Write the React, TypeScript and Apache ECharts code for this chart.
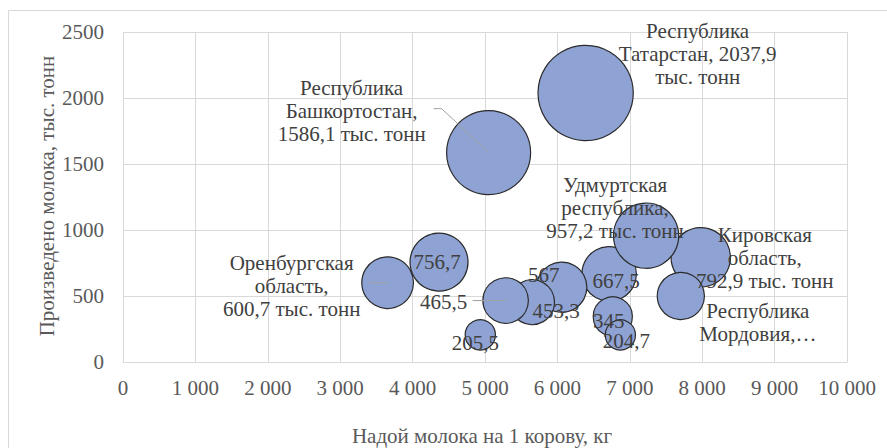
import React, { useEffect, useRef } from "react";
import * as echarts from "echarts";

// Надой молока на 1 корову, кг (x)
const milkYield = [6390, 5050, 7980, 3655, 4365, 6715, 6060, 5650, 5285, 6765, 6870, 4935, 7705, 7225];
// Произведено молока, тыс. тонн (y, also bubble size)
const production = [2037.9, 1586.1, 792.9, 600.7, 756.7, 667.5, 567, 453.3, 465.5, 345, 204.7, 205.5, 500, 957.2];
const labelTexts = [
  "Республика\nТатарстан, 2037,9\nтыс. тонн",
  "Республика\nБашкортостан,\n1586,1 тыс. тонн",
  "Кировская\nобласть,\n792,9 тыс. тонн",
  "Оренбургская\nобласть,\n600,7 тыс. тонн",
  "756,7",
  "667,5",
  "567",
  "453,3",
  "465,5",
  "345",
  "204,7",
  "205,5",
  "Республика\nМордовия,…",
  "Удмуртская\nреспублика,\n957,2 тыс. тонн",
];
const xTicks = { min: 0, max: 10000, interval: 1000 };
const yTicks = { min: 0, max: 2500, interval: 500 };

// label placement (pixel offsets from bubble centre)
const labelOffsets: number[][] = [
  [112, -39], [-137, -42], [64, 1], [-96, 3], [-2, 0], [7, 7], [-18, -12],
  [24, 9], [-62, 1], [-4, 5], [6, 6], [-5, 8], [77, 26], [-31, -28],
];
// leader lines: bubble index and pixel points relative to bubble centre
const leaderIdx = [1, 3, 8];
const leaderPts: number[][][] = [
  [[0, 0], [-47, -44], [-55, -44]],
  [[0, 0], [-18, 0]],
  [[0, 0], [-33, 0]],
];

const FONT = "Liberation Serif";
const FS = 21;

export default function App() {
  const ref = useRef<HTMLDivElement>(null);
  useEffect(() => {
    if (!ref.current) return;
    const chart = echarts.init(ref.current, null, { renderer: "svg" });
    const fmt = (v: number) => String(v).replace(/\B(?=(\d{3})+(?!\d))/g, " ");
    const data = milkYield.map((x, i) => ({
      value: [x, production[i], production[i]],
      label: { formatter: labelTexts[i], offset: labelOffsets[i] },
    }));
    chart.setOption({
      animation: false,
      textStyle: { fontFamily: FONT },
      grid: { left: 123, right: 40, top: 32, bottom: 86, containLabel: false },
      xAxis: {
        type: "value",
        ...xTicks,
        axisLine: { show: true, lineStyle: { color: "#d9d9d9", width: 1 } },
        axisTick: { show: false },
        splitLine: { show: true, lineStyle: { color: "#d9d9d9", width: 1 } },
        axisLabel: { formatter: fmt, color: "#595959", fontSize: FS, fontFamily: FONT, margin: 15 },
      },
      yAxis: {
        type: "value",
        ...yTicks,
        axisLine: { show: false },
        axisTick: { show: false },
        splitLine: { show: true, lineStyle: { color: "#d9d9d9", width: 1 } },
        axisLabel: {
          formatter: (v: number) => String(v),
          color: "#595959",
          fontSize: FS,
          fontFamily: FONT,
          margin: 19,
        },
      },
      graphic: [
        {
          type: "rect",
          shape: { x: 8.5, y: 10.5, width: 900, height: 500 },
          style: { fill: "none", stroke: "#d9d9d9", lineWidth: 1 },
          silent: true,
          z: -10,
        },
        {
          type: "text",
          x: 482,
          y: 436,
          style: {
            text: "Надой молока на 1 корову, кг",
            fontSize: FS,
            fontFamily: FONT,
            fill: "#595959",
            align: "center",
            verticalAlign: "middle",
          },
        },
        {
          type: "text",
          x: 47,
          y: 196,
          rotation: Math.PI / 2,
          style: {
            text: "Произведено молока, тыс. тонн",
            fontSize: FS,
            fontFamily: FONT,
            fill: "#595959",
            align: "center",
            verticalAlign: "middle",
          },
        },
      ],
      series: [
        {
          type: "scatter",
          z: 2,
          silent: true,
          symbol: "circle",
          symbolSize: (v: number[]) => 2 * 1.055 * Math.sqrt(v[2]),
          itemStyle: { color: "#8EA2D3", borderColor: "#2B2B2B", borderWidth: 1.2, opacity: 1 },
          label: {
            show: true,
            position: "inside",
            align: "center",
            verticalAlign: "middle",
            fontSize: FS,
            lineHeight: 23,
            fontFamily: FONT,
            color: "#404040",
          },
          emphasis: { disabled: true },
          data,
        },
        {
          type: "custom",
          z: 3,
          silent: true,
          coordinateSystem: "cartesian2d",
          encode: { x: 0, y: 1 },
          data: leaderIdx.map((i) => [milkYield[i], production[i]]),
          renderItem: (params: any, api: any) => {
            const c = api.coord([api.value(0), api.value(1)]);
            const pts = leaderPts[params.dataIndex].map((p) => [c[0] + p[0], c[1] + p[1]]);
            return {
              type: "polyline",
              shape: { points: pts },
              style: { stroke: "#a0a0a0", lineWidth: 1, fill: null },
            };
          },
        },
      ],
    });
    return () => chart.dispose();
  }, []);
  return (
    <div
      ref={ref}
      style={{ position: "fixed", left: 0, top: 0, width: 887, height: 448, background: "#fff" }}
    />
  );
}
